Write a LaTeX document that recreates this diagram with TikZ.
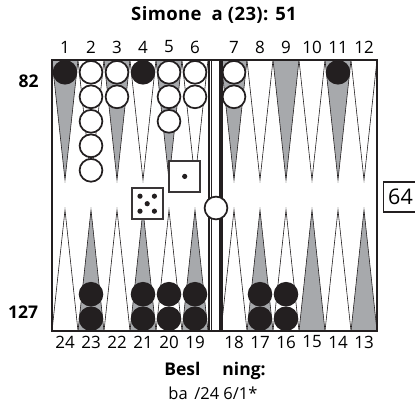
\documentclass[tikz,border=0pt]{standalone}
\usepackage{fontspec}
\setmainfont{Open Sans}
\usetikzlibrary{calc}
\definecolor{ink}{HTML}{231F20}
\definecolor{pointgray}{HTML}{A7A9AC}
\tikzset{
  pointtri/.style={draw=ink, line width=0.6pt},
  frame/.style={draw=ink, line width=2.2pt},
  barline/.style={draw=ink, line width=0.7pt},
  whitechk/.style={circle, draw=ink, fill=white, line width=1.7pt, minimum size=22.8pt, inner sep=0pt},
  blackchk/.style={circle, draw=ink, fill=ink, line width=1.7pt, minimum size=22.8pt, inner sep=0pt},
  diebox/.style={rectangle, draw=ink!90, fill=white, line width=2pt, minimum size=31pt, inner sep=0pt},
  pip/.style={circle, fill=ink, inner sep=0pt, minimum size=5.2pt},
  ptlabel/.style={font=\fontsize{17}{20}\selectfont, inner sep=0pt},
  titleline/.style={font=\fontsize{18.5}{21}\selectfont\bfseries\addfontfeatures{LetterSpace=2}, inner sep=0pt},
  headline/.style={font=\fontsize{17.5}{20}\selectfont\bfseries, inner sep=0pt},
  scorelabel/.style={font=\fontsize{17.5}{20}\selectfont\bfseries, inner sep=0pt},
  bodyline/.style={font=\fontsize{16.5}{19}\selectfont, inner sep=0pt},
}
\begin{document}
\begin{tikzpicture}[x=1pt,y=-1pt]
\useasboundingbox (0,0) rectangle (415,410);
\clip (0,0) rectangle (415,410);

% points 1-12 along the top edge, 13-24 along the bottom edge
\foreach \p in {1,...,12}{
  \pgfmathsetmacro{\cx}{\p<7 ? 52+26*(\p-1)+13 : 221+26*(\p-7)+13}
  \pgfmathsetmacro{\shade}{mod(\p,2)==1 ? 1 : 0}
  \ifdim\shade pt>0.5pt
    \filldraw[pointtri, fill=pointgray] (\cx-13,60) -- (\cx,180) -- (\cx+13,60) -- cycle;
  \else
    \filldraw[pointtri, fill=white] (\cx-13,60) -- (\cx,180) -- (\cx+13,60) -- cycle;
  \fi
  \node[ptlabel] (lab\p) at (\cx,47) {\p};
}
\foreach \p in {13,...,24}{
  \pgfmathsetmacro{\cx}{\p<19 ? 221+26*(18-\p)+13 : 52+26*(24-\p)+13}
  \pgfmathsetmacro{\shade}{mod(\p,2)==1 ? 1 : 0}
  \ifdim\shade pt>0.5pt
    \filldraw[pointtri, fill=pointgray] (\cx-13,331) -- (\cx,210) -- (\cx+13,331) -- cycle;
  \else
    \filldraw[pointtri, fill=white] (\cx-13,331) -- (\cx,210) -- (\cx+13,331) -- cycle;
  \fi
  \node[ptlabel] (lab\p) at (\cx,342) {\p};
}

% board frame and bar
\fill[white] (209.5,60) rectangle (220.5,331);
\draw[frame] (52,60) rectangle (377,331);
\draw[frame] (208.7,60) -- (208.7,331);
\draw[frame] (221.5,60) -- (221.5,331);
\draw[barline] (211,60) -- (211,331);
\draw[barline] (219,60) -- (219,331);

% checkers on the top points
\node[blackchk] (c1a) at (65,72.3) {};
\foreach \k in {0,...,4}{ \node[whitechk] (c2\k) at (91,72.3+24.5*\k) {}; }
\foreach \k in {0,1}{ \node[whitechk] (c3\k) at (117,72.3+24.5*\k) {}; }
\node[blackchk] (c4a) at (143,72.3) {};
\foreach \k in {0,...,2}{ \node[whitechk] (c5\k) at (169,72.3+24.5*\k) {}; }
\foreach \k in {0,1}{ \node[whitechk] (c6\k) at (195,72.3+24.5*\k) {}; }
\foreach \k in {0,1}{ \node[whitechk] (c7\k) at (234,72.3+24.5*\k) {}; }
\node[blackchk] (c11a) at (338,72.3) {};

% checkers on the bottom points
\foreach \x/\n in {91/23,143/21,169/20,195/19,260/17,286/16}{
  \node[blackchk] (b\n a) at (\x,318.7) {};
  \node[blackchk] (b\n b) at (\x,294.2) {};
}

% checker on the bar
\node[whitechk] (barchk) at (216,208) {};

% dice
\node[diebox] (dieone) at (184.7,176.4) {};
\node[pip] at (dieone.center) {};
\node[diebox] (diefive) at (147.2,203.7) {};
\foreach \dx/\dy in {-7.2/-7.5,7.2/-7.5,0/0,-7.2/7.5,7.2/7.5}{
  \node[pip] at ($(diefive.center)+(\dx,\dy)$) {};
}

% doubling cube
\draw[draw=ink, line width=1.6pt] (383.5,182) rectangle (440,212);
\node[font=\fontsize{21.5}{25}\selectfont, inner sep=0pt] (cube) at (400.5,197) {64};

% texts
\node[titleline] (title) at (214,15) {Simone\hspace{10pt}a (23): 51};
\node[scorelabel] (topscore) at (28.5,81) {82};
\node[scorelabel] (botscore) at (23,312) {127};
\node[headline] (solhead) at (215,371) {Besl\hspace{22pt}ning:};
\node[bodyline] (solmove) at (213,393) {ba\hspace{6.5pt}/24 6/1*};
\end{tikzpicture}
\end{document}
